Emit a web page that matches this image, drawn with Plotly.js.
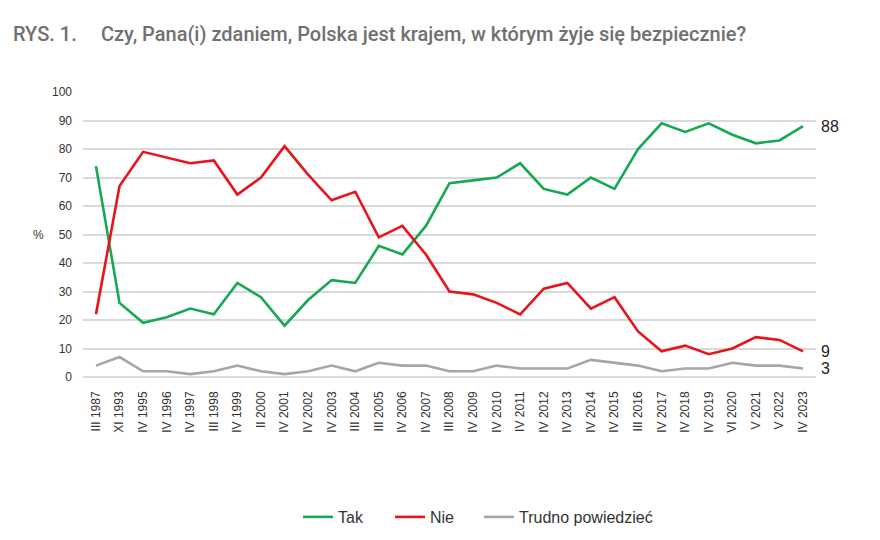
<!DOCTYPE html>
<html>
<head>
<meta charset="utf-8">
<script src="https://cdn.plot.ly/plotly-3.0.1.min.js"></script>
<style>
  html, body { margin: 0; padding: 0; background: #fff; }
  #chart { width: 880px; height: 540px; }
</style>
</head>
<body>
<div id="chart"></div>
<script>
// Survey waves (month in Roman numerals + year)
const waves = [
  'III 1987', 'XI 1993', 'IV 1995', 'IV 1996', 'IV 1997', 'III 1998', 'IV 1999',
  'II 2000', 'IV 2001', 'IV 2002', 'IV 2003', 'III 2004', 'III 2005', 'IV 2006',
  'IV 2007', 'III 2008', 'IV 2009', 'IV 2010', 'IV 2011', 'IV 2012', 'IV 2013',
  'IV 2014', 'IV 2015', 'III 2016', 'IV 2017', 'IV 2018', 'IV 2019', 'VI 2020',
  'V 2021', 'V 2022', 'IV 2023'
];

// Answers, % of respondents
const tak = [74, 26, 19, 21, 24, 22, 33, 28, 18, 27, 34, 33, 46, 43, 53, 68, 69, 70,
             75, 66, 64, 70, 66, 80, 89, 86, 89, 85, 82, 83, 88];
const nie = [22, 67, 79, 77, 75, 76, 64, 70, 81, 71, 62, 65, 49, 53, 43, 30, 29, 26,
             22, 31, 33, 24, 28, 16, 9, 11, 8, 10, 14, 13, 9];
const trudno = [4, 7, 2, 2, 1, 2, 4, 2, 1, 2, 4, 2, 5, 4, 4, 2, 2, 4,
                3, 3, 3, 6, 5, 4, 2, 3, 3, 5, 4, 4, 3];

const seriesNames = ['Tak', 'Nie', 'Trudno powiedzieć'];
const colors = ['#16a853', '#e8141b', '#a6a6a6'];
const values = [tak, nie, trudno];

// one legend per series so each entry can sit at its own spot along the bottom row
const legendIds = ['legend', 'legend2', 'legend3'];
const legendLeft = [298, 390, 479];

const traces = values.map((v, i) => ({
  type: 'scatter',
  mode: 'lines',
  x: waves,
  y: v,
  name: seriesNames[i],
  legend: legendIds[i],
  line: { color: colors[i], width: 2.6 },
  hoverinfo: 'x+y+name'
}));

const lastWave = waves[waves.length - 1];
const endLabels = values.map(v => ({
  x: lastWave,
  y: v[v.length - 1],
  xref: 'x',
  yref: 'y',
  text: String(v[v.length - 1]),
  showarrow: false,
  xanchor: 'left',
  yanchor: 'middle',
  xshift: 16,
  font: { family: 'Liberation Sans, Arial, sans-serif', size: 16, color: '#222' }
}));

const layout = {
  width: 880,
  height: 540,
  paper_bgcolor: '#ffffff',
  plot_bgcolor: '#ffffff',
  margin: { l: 83, r: 64, t: 92, b: 163 },
  showlegend: true,
  xaxis: {
    type: 'category',
    range: [-0.55, waves.length - 0.45],
    tickangle: -90,
    showgrid: false,
    zeroline: false,
    showline: false,
    ticks: '',
    ticklabelstandoff: 11,
    automargin: false,
    tickfont: { family: 'Liberation Sans, Arial, sans-serif', size: 12, color: '#333' }
  },
  yaxis: {
    range: [0, 100],
    dtick: 10,
    showgrid: true,
    gridcolor: '#d9d9d9',
    gridwidth: 1.5,
    zeroline: true,
    zerolinecolor: '#d9d9d9',
    zerolinewidth: 1.5,
    showline: false,
    ticks: '',
    ticklabelstandoff: 10,
    automargin: false,
    tickfont: { family: 'Liberation Sans, Arial, sans-serif', size: 12, color: '#333' }
  },
  annotations: [
    {
      xref: 'paper', yref: 'paper', x: (38 - 83) / 733, y: 0.5,
      text: '%', showarrow: false, xanchor: 'center', yanchor: 'middle',
      font: { family: 'Liberation Sans, Arial, sans-serif', size: 12, color: '#333' }
    },
    {
      xref: 'paper', yref: 'paper',
      x: (11 - 83) / 733, y: (377 - 34) / 285,
      text: 'RYS. 1.', showarrow: false, xanchor: 'left', yanchor: 'middle',
      font: { family: 'Roboto, sans-serif', size: 20, color: '#707070', weight: 500 }
    },
    {
      xref: 'paper', yref: 'paper',
      x: (99 - 83) / 733, y: (377 - 34) / 285,
      text: 'Czy, Pana(i) zdaniem, Polska jest krajem, w którym żyje się bezpiecznie?',
      showarrow: false, xanchor: 'left', yanchor: 'middle',
      font: { family: 'Roboto, sans-serif', size: 20, color: '#707070', weight: 500 }
    }
  ].concat(endLabels)
};

legendIds.forEach((id, i) => {
  layout[id] = {
    orientation: 'h',
    xref: 'container',
    yref: 'container',
    x: legendLeft[i] / 880,
    xanchor: 'left',
    y: 1 - 517 / 540,
    yanchor: 'middle',
    bgcolor: 'rgba(0,0,0,0)',
    font: { family: 'Liberation Sans, Arial, sans-serif', size: 16, color: '#333' }
  };
});

Plotly.newPlot('chart', traces, layout, { displayModeBar: false, responsive: false });
</script>
</body>
</html>
